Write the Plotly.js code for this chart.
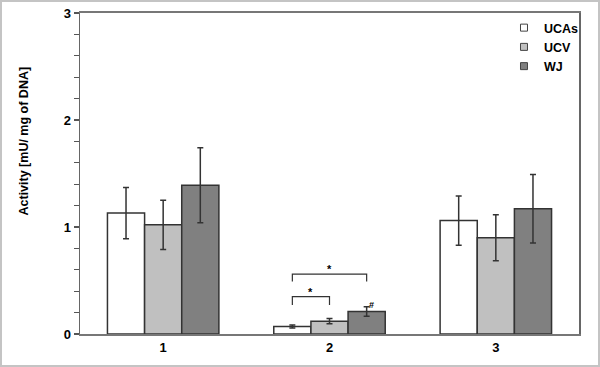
<!DOCTYPE html>
<html>
<head>
<meta charset="utf-8">
<script src="https://cdn.plot.ly/plotly-3.0.1.min.js"></script>
<style>
html,body{margin:0;padding:0;background:#fff;}
#wrap{position:relative;width:600px;height:367px;}
#chart{position:absolute;left:0;top:0;width:600px;height:367px;}
#frame{position:absolute;left:0;top:0;width:596px;height:363px;border:2px solid #c4c4c4;pointer-events:none;}
</style>
</head>
<body>
<div id="wrap"><div id="chart"></div><div id="frame"></div></div>
<script>
const categories = ['1', '2', '3'];
const seriesNames = ['UCAs', 'UCV', 'WJ'];
const ucasValues = [1.13, 0.07, 1.06];
const ucasErrors = [0.24, 0.015, 0.23];
const ucvValues = [1.02, 0.12, 0.90];
const ucvErrors = [0.23, 0.025, 0.215];
const wjValues = [1.39, 0.21, 1.17];
const wjErrors = [0.35, 0.045, 0.32];
const yTickVals = [0, 1, 2, 3];
const yTickText = ['0', '1', '2', '3'];

const fills = ['#ffffff', '#c0c0c0', '#808080'];
const series = [[ucasValues, ucasErrors], [ucvValues, ucvErrors], [wjValues, wjErrors]];

const traces = series.map((s, i) => ({
  type: 'bar',
  name: seriesNames[i],
  x: categories,
  y: s[0],
  showlegend: false,
  marker: {color: fills[i], line: {color: '#333333', width: 1.5}},
  error_y: {type: 'data', array: s[1], visible: true, color: '#333333', thickness: 1.5, width: 3}
}));
// legend-only entries with small square symbols
seriesNames.forEach((n, i) => traces.push({
  type: 'scatter', mode: 'markers', name: n, x: [null], y: [null], showlegend: true,
  marker: {symbol: 'square', size: 7, color: fills[i], line: {color: '#444444', width: 1}}
}));

const bargap = 0.33;
const barW = (1 - bargap) / 3;
const g = 1; // group index for category '2'
const xU = g - barW, xV = g, xW = g + barW;
const lineStyle = {color: '#333333', width: 1.2};
const shapes = [
  {type: 'path', xref: 'x', yref: 'y', path: `M ${xU} 0.27 L ${xU} 0.35 L ${xV} 0.35 L ${xV} 0.27`, line: lineStyle},
  {type: 'path', xref: 'x', yref: 'y', path: `M ${xU} 0.49 L ${xU} 0.56 L ${xW} 0.56 L ${xW} 0.49`, line: lineStyle}
];
const bold = {family: 'Arial, Liberation Sans, sans-serif', size: 13, color: '#000', weight: 'bold'};
const annotations = [
  {xref: 'x', yref: 'y', x: (xU + xV) / 2, y: 0.39, text: '<b>*</b>', showarrow: false, font: {family: 'Arial, Liberation Sans', size: 11, color: '#000'}},
  {xref: 'x', yref: 'y', x: (xU + xW) / 2, y: 0.61, text: '<b>*</b>', showarrow: false, font: {family: 'Arial, Liberation Sans', size: 11, color: '#000'}},
  {xref: 'x', yref: 'y', x: xW + 0.03, y: 0.275, text: '<b>#</b>', showarrow: false, font: {family: 'Arial, Liberation Sans', size: 9, color: '#000'}},
  {xref: 'paper', yref: 'paper', x: -0.112, y: 0.6, xanchor: 'center', yanchor: 'middle', textangle: -90,
   text: '<b>Activity [mU/ mg of DNA]</b>', showarrow: false, font: {family: 'Arial, Liberation Sans', size: 12.5, color: '#000'}}
];

const layout = {
  width: 600, height: 367,
  margin: {l: 80, r: 21, t: 13, b: 33},
  paper_bgcolor: '#ffffff', plot_bgcolor: '#ffffff',
  barmode: 'group', bargap: bargap, bargroupgap: 0,
  showlegend: true,
  legend: {x: 1.01, y: 1.0, xanchor: 'right', yanchor: 'top', bgcolor: 'rgba(0,0,0,0)',
           font: {family: 'Arial, Liberation Sans', size: 12.5, color: '#000', weight: 'bold'},
           tracegroupgap: 0, itemwidth: 30, traceorder: 'normal'},
  xaxis: {type: 'category', showline: true, linecolor: '#777777', linewidth: 2, mirror: true,
          ticks: '', showgrid: false, zeroline: false, tickfont: bold},
  yaxis: {range: [0, 3], showline: true, linecolor: '#666666', linewidth: 1.5, mirror: true,
          tickvals: yTickVals, ticktext: yTickText, ticks: 'outside', ticklen: 5, tickwidth: 1.2, tickcolor: '#555',
          minor: {dtick: 0.2, ticks: 'outside', ticklen: 5, tickwidth: 1.2, tickcolor: '#555', showgrid: false},
          showgrid: false, zeroline: false, tickfont: bold},
  shapes: shapes,
  annotations: annotations
};
Plotly.newPlot('chart', traces, layout, {displayModeBar: false, staticPlot: true});
</script>
</body>
</html>
